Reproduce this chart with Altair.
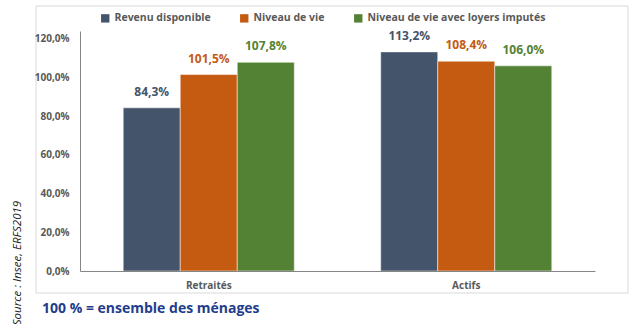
import altair as alt
import pandas as pd

groups = ["Retraités", "Actifs"]
series = ["Revenu disponible", "Niveau de vie", "Niveau de vie avec loyers imputés"]
values_retraites = [84.3, 101.5, 107.8]
values_actifs = [113.2, 108.4, 106.0]
colors = ["#44546A", "#C55A11", "#548235"]
y_ticks = [0, 20, 40, 60, 80, 100, 120]

rows = []
for s, v in zip(series, values_retraites):
    rows.append({"groupe": "Retraités", "serie": s, "v": v})
for s, v in zip(series, values_actifs):
    rows.append({"groupe": "Actifs", "serie": s, "v": v})
df = pd.DataFrame(rows)

FONT = "Open Sans"
GRAY = "#595959"

x_enc = alt.X("groupe:N", sort=groups, title=None,
              scale=alt.Scale(paddingInner=0, paddingOuter=0),
              axis=alt.Axis(labelAngle=0, labelFontWeight="bold", labelFontSize=10,
                            labelColor=GRAY, labelFont=FONT, ticks=False, zindex=1,
                            domainColor="#868686", labelPadding=9))
xo = alt.XOffset("serie:N", sort=series, scale=alt.Scale(paddingInner=0, paddingOuter=0.758))
y_enc = alt.Y("v:Q", title=None,
              scale=alt.Scale(domain=[0, 124], nice=False),
              axis=alt.Axis(values=y_ticks, grid=False, ticks=False, zindex=1,
                            labelOverlap=False,
                            labelExpr="replace(format(datum.value,'.1f'),'.',',')+'%'",
                            labelFontWeight="bold", labelFontSize=10, labelColor=GRAY,
                            labelFont=FONT, domainColor="#868686", labelPadding=11))
color_scale = alt.Scale(domain=series, range=colors)

base = alt.Chart(df).encode(x=x_enc, xOffset=xo, y=y_enc)

frame = alt.Chart(pd.DataFrame({"a": [0]})).mark_rect(
    filled=False, stroke="#d9d9d9", strokeWidth=1
).encode(x=alt.value(-44), x2=alt.value(548), y=alt.value(-25), y2=alt.value(262))

bars = base.mark_bar(stroke="white", strokeWidth=0.5).encode(
    color=alt.Color("serie:N", sort=series, scale=color_scale, title=None,
                    legend=alt.Legend(orient="none", legendX=20, legendY=-18,
                                      direction="horizontal", symbolType="square",
                                      symbolSize=70, symbolStrokeWidth=0,
                                      labelFont=FONT, labelFontSize=10.5,
                                      labelFontWeight="bold", labelColor=GRAY,
                                      labelLimit=400,
                                      columnPadding=28, labelOffset=4))
)

labels = base.mark_text(dy=-9, font=FONT, fontSize=12, fontWeight="bold", baseline="bottom").encode(
    text=alt.Text("lab:N"),
    color=alt.Color("serie:N", sort=series, scale=color_scale, legend=None),
).transform_calculate(lab="replace(format(datum.v,'.1f'),'.',',')+'%'")

source = alt.Chart(pd.DataFrame({"t": ["Source : Insee, ERFS2019"]})).mark_text(
    angle=270, font=FONT, fontSize=11.5, fontStyle="italic", color="#222222", align="center",
    baseline="middle"
).encode(text="t:N", x=alt.value(-62), y=alt.value(232))

note = alt.Chart(pd.DataFrame({"t": ["100 % = ensemble des ménages"]})).mark_text(
    font=FONT, fontSize=14, fontWeight="bold", color="#1F3D8C", align="left", baseline="middle"
).encode(text="t:N", x=alt.value(-38), y=alt.value(278))

chart = alt.layer(frame, bars, labels, source, note).resolve_scale(color="shared").properties(
    width=515, height=240,
    autosize=alt.AutoSizeParams(type="none"),
    padding={"left": 80, "top": 31, "right": 41, "bottom": 53},
    background="white",
).configure_view(stroke=None)

chart.save("out.html", embed_options={"renderer": "svg", "actions": False})
